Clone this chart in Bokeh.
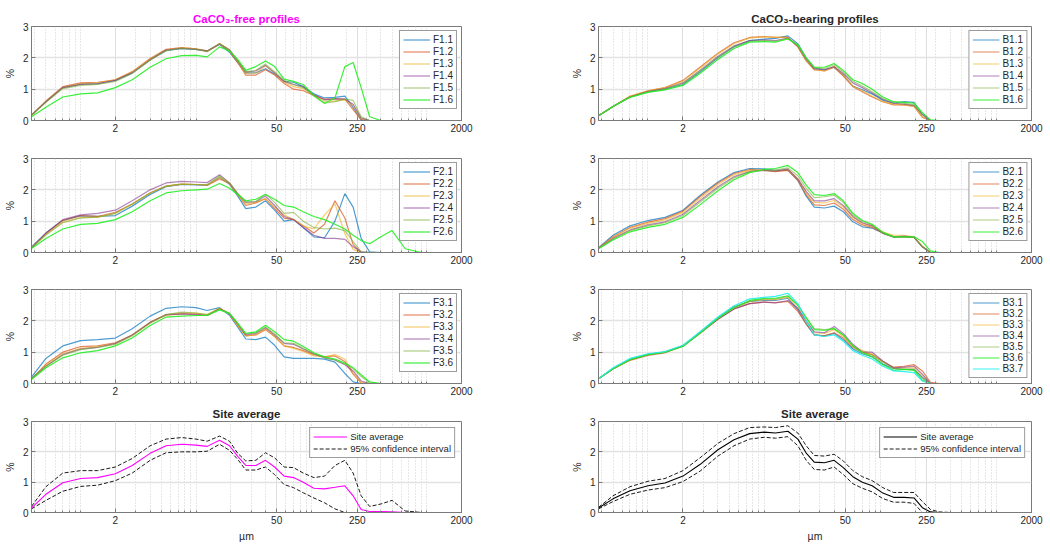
from bokeh.plotting import figure
from bokeh.layouts import column, row
from bokeh.models import Range1d, FixedTicker, Legend, LegendItem, PrintfTickFormatter
from bokeh.embed import file_html
from bokeh.resources import INLINE

# ---------------- data ----------------
size_um = [0.375, 0.5, 0.7, 1.0, 1.4, 2.0, 2.8, 4.0, 5.5, 7.5, 10, 12.5, 16, 19.5, 23, 27, 33, 40,
           48, 58, 70, 85, 105, 130, 160, 195, 230, 270, 320, 400, 500, 650, 900, 2000]

x_tick_values = [2, 50, 250, 2000]
x_minor_values = [0.4, 0.5, 0.6, 0.7, 0.8, 0.9, 1, 2, 3, 4, 5, 6, 7, 8, 9, 10, 20, 30, 40, 50, 60, 70,
                  80, 90, 100, 200, 300, 400, 500, 600, 700, 800, 900, 1000, 2000]
y_tick_values = [0, 1, 2, 3]

F1_labels = ["F1.1", "F1.2", "F1.3", "F1.4", "F1.5", "F1.6"]
F1_1 = [0.17,0.60,1.05,1.16,1.18,1.28,1.52,1.95,2.23,2.30,2.27,2.22,2.43,2.18,1.85,1.52,1.52,1.65,1.48,1.25,1.22,1.08,0.85,0.72,0.74,0.78,0.42,0.03,0,0,0,0,0,0]
F1_2 = [0.17,0.62,1.08,1.20,1.22,1.30,1.56,1.98,2.27,2.33,2.29,2.20,2.44,2.22,1.85,1.45,1.45,1.62,1.45,1.18,1.00,0.95,0.80,0.68,0.68,0.68,0.35,0.02,0,0,0,0,0,0]
F1_3 = [0.17,0.60,1.05,1.17,1.20,1.30,1.55,1.96,2.25,2.32,2.29,2.22,2.46,2.24,1.88,1.50,1.52,1.74,1.52,1.22,1.08,1.02,0.80,0.62,0.62,0.66,0.48,0.06,0,0,0,0,0,0]
F1_4 = [0.17,0.60,1.05,1.15,1.17,1.28,1.52,1.93,2.25,2.30,2.27,2.22,2.45,2.26,1.90,1.55,1.58,1.76,1.52,1.25,1.15,1.08,0.82,0.66,0.70,0.68,0.52,0.08,0,0,0,0,0,0]
F1_5 = [0.17,0.58,1.02,1.12,1.15,1.25,1.50,1.92,2.23,2.30,2.27,2.20,2.45,2.26,1.90,1.55,1.60,1.80,1.56,1.28,1.15,1.05,0.78,0.55,0.60,0.68,0.64,0.12,0,0,0,0,0,0]
F1_6 = [0.12,0.42,0.75,0.85,0.88,1.05,1.30,1.70,1.97,2.07,2.08,2.03,2.35,2.22,1.95,1.60,1.72,1.90,1.72,1.32,1.25,1.15,0.80,0.55,0.72,1.72,1.85,1.05,0.12,0,0,0,0,0]

F2_labels = ["F2.1", "F2.2", "F2.3", "F2.4", "F2.5", "F2.6"]
F2_1 = [0.18,0.62,1.02,1.17,1.15,1.18,1.48,1.85,2.10,2.17,2.16,2.14,2.40,2.18,1.80,1.40,1.45,1.65,1.35,1.00,1.05,0.80,0.50,0.47,1.00,1.88,1.45,0.45,0.02,0,0,0,0,0]
F2_2 = [0.15,0.60,1.02,1.18,1.15,1.28,1.55,1.90,2.12,2.18,2.17,2.15,2.35,2.20,1.85,1.50,1.58,1.72,1.40,1.10,1.05,0.85,0.62,0.90,1.65,1.10,0.25,0,0,0,0,0,0,0]
F2_3 = [0.15,0.58,0.98,1.12,1.12,1.25,1.55,1.90,2.12,2.18,2.17,2.15,2.40,2.20,1.85,1.55,1.60,1.72,1.45,1.20,1.05,0.85,0.75,1.20,1.55,0.60,0.10,0,0,0,0,0,0,0]
F2_4 = [0.15,0.62,1.05,1.20,1.25,1.35,1.65,2.00,2.22,2.27,2.25,2.23,2.48,2.22,1.88,1.60,1.62,1.80,1.50,1.15,1.05,0.80,0.55,0.45,0.45,0.42,0.18,0.02,0,0,0,0,0,0]
F2_5 = [0.15,0.56,0.95,1.10,1.13,1.25,1.55,1.90,2.12,2.18,2.17,2.16,2.45,2.22,1.88,1.62,1.62,1.87,1.60,1.25,1.28,1.00,0.80,0.75,0.78,0.70,0.35,0.03,0,0,0,0,0,0]
F2_6 = [0.13,0.45,0.75,0.90,0.93,1.05,1.30,1.65,1.90,1.97,2.00,2.02,2.20,2.05,1.85,1.65,1.70,1.85,1.70,1.50,1.45,1.30,1.15,1.05,0.90,0.75,0.55,0.38,0.28,0.50,0.70,0.12,0,0]

F3_labels = ["F3.1", "F3.2", "F3.3", "F3.4", "F3.5", "F3.6"]
F3_1 = [0.20,0.80,1.20,1.37,1.40,1.45,1.75,2.15,2.40,2.45,2.42,2.33,2.42,2.18,1.80,1.42,1.40,1.48,1.22,0.85,0.80,0.80,0.80,0.78,0.68,0.32,0.05,0,0,0,0,0,0,0]
F3_2 = [0.15,0.62,1.00,1.18,1.20,1.30,1.55,1.95,2.18,2.22,2.22,2.17,2.40,2.22,1.85,1.52,1.55,1.72,1.50,1.20,1.15,1.05,0.92,0.85,0.88,0.70,0.30,0.02,0,0,0,0,0,0]
F3_3 = [0.15,0.58,0.95,1.12,1.17,1.28,1.55,1.95,2.20,2.25,2.25,2.20,2.40,2.22,1.85,1.52,1.55,1.75,1.50,1.20,1.12,1.02,0.88,0.85,0.92,0.78,0.35,0.03,0,0,0,0,0,0]
F3_4 = [0.15,0.55,0.92,1.10,1.15,1.28,1.55,1.95,2.20,2.22,2.20,2.17,2.38,2.24,1.90,1.55,1.60,1.78,1.55,1.28,1.25,1.10,0.95,0.82,0.75,0.60,0.40,0.08,0,0,0,0,0,0]
F3_5 = [0.15,0.55,0.90,1.08,1.15,1.25,1.52,1.92,2.20,2.28,2.25,2.20,2.38,2.24,1.92,1.58,1.62,1.80,1.58,1.30,1.28,1.12,0.95,0.82,0.75,0.62,0.48,0.22,0.03,0,0,0,0,0]
F3_6 = [0.13,0.50,0.82,0.98,1.05,1.20,1.45,1.85,2.12,2.15,2.17,2.17,2.35,2.24,1.92,1.60,1.65,1.86,1.65,1.40,1.35,1.18,0.98,0.85,0.78,0.65,0.50,0.28,0.05,0,0,0,0,0]

SA_F_mean = [0.15,0.60,0.98,1.12,1.15,1.28,1.55,1.95,2.20,2.25,2.22,2.18,2.38,2.20,1.85,1.55,1.55,1.72,1.50,1.20,1.15,1.00,0.80,0.78,0.83,0.88,0.55,0.10,0.03,0.03,0.02,0,0,0]
SA_F_upper = [0.20,0.85,1.30,1.38,1.38,1.50,1.78,2.20,2.42,2.47,2.42,2.35,2.52,2.35,1.95,1.70,1.72,1.97,1.80,1.50,1.48,1.30,1.15,1.20,1.55,1.72,1.30,0.55,0.20,0.28,0.40,0.05,0,0]
SA_F_lower = [0.12,0.40,0.70,0.86,0.90,1.05,1.30,1.72,1.97,2.00,2.00,2.02,2.25,2.05,1.75,1.40,1.40,1.50,1.25,0.92,0.82,0.65,0.48,0.32,0.12,0,0,0,0,0,0,0,0,0]

B1_labels = ["B1.1", "B1.2", "B1.3", "B1.4", "B1.5", "B1.6"]
B1_1 = [0.15,0.45,0.75,0.92,1.00,1.15,1.55,2.00,2.35,2.55,2.60,2.62,2.70,2.45,2.00,1.68,1.62,1.70,1.45,1.10,0.98,0.85,0.65,0.55,0.60,0.58,0.20,0,0,0,0,0,0,0]
B1_2 = [0.15,0.45,0.77,0.95,1.05,1.28,1.70,2.15,2.48,2.65,2.68,2.65,2.65,2.35,1.90,1.62,1.58,1.70,1.42,1.08,0.92,0.75,0.60,0.50,0.50,0.45,0.10,0,0,0,0,0,0,0]
B1_3 = [0.15,0.45,0.77,0.95,1.05,1.25,1.67,2.12,2.45,2.63,2.67,2.65,2.65,2.35,1.92,1.62,1.58,1.72,1.45,1.10,0.95,0.78,0.60,0.52,0.50,0.45,0.12,0,0,0,0,0,0,0]
B1_4 = [0.15,0.45,0.75,0.92,1.02,1.20,1.60,2.05,2.38,2.55,2.57,2.55,2.63,2.38,1.95,1.65,1.62,1.72,1.50,1.20,1.05,0.88,0.68,0.55,0.52,0.48,0.18,0,0,0,0,0,0,0]
B1_5 = [0.15,0.45,0.75,0.92,1.00,1.18,1.58,2.02,2.35,2.53,2.55,2.53,2.62,2.40,1.98,1.68,1.65,1.78,1.55,1.25,1.10,0.92,0.70,0.58,0.55,0.50,0.20,0,0,0,0,0,0,0]
B1_6 = [0.15,0.45,0.74,0.90,0.98,1.12,1.50,1.95,2.30,2.50,2.52,2.50,2.60,2.42,2.00,1.70,1.70,1.82,1.60,1.30,1.18,1.00,0.75,0.60,0.58,0.55,0.25,0.02,0,0,0,0,0,0]

B2_labels = ["B2.1", "B2.2", "B2.3", "B2.4", "B2.5", "B2.6"]
B2_1 = [0.15,0.55,0.85,1.02,1.12,1.35,1.82,2.25,2.55,2.68,2.67,2.62,2.63,2.30,1.80,1.45,1.42,1.48,1.30,0.98,0.82,0.78,0.62,0.50,0.50,0.48,0.18,0,0,0,0,0,0,0]
B2_2 = [0.14,0.50,0.80,0.97,1.08,1.32,1.78,2.22,2.52,2.65,2.62,2.58,2.62,2.30,1.85,1.52,1.50,1.58,1.38,1.05,0.88,0.80,0.62,0.50,0.50,0.50,0.18,0,0,0,0,0,0,0]
B2_3 = [0.14,0.48,0.78,0.93,1.04,1.28,1.72,2.17,2.48,2.62,2.63,2.60,2.65,2.35,1.90,1.60,1.58,1.66,1.45,1.12,0.92,0.85,0.65,0.55,0.55,0.50,0.20,0,0,0,0,0,0,0]
B2_4 = [0.13,0.45,0.72,0.88,0.98,1.22,1.65,2.10,2.42,2.58,2.62,2.60,2.66,2.35,1.95,1.65,1.65,1.72,1.50,1.15,0.95,0.85,0.62,0.50,0.52,0.48,0.18,0,0,0,0,0,0,0]
B2_5 = [0.13,0.42,0.70,0.85,0.95,1.18,1.60,2.05,2.38,2.58,2.63,2.63,2.70,2.45,2.05,1.75,1.78,1.83,1.60,1.20,1.00,0.88,0.62,0.50,0.50,0.48,0.18,0,0,0,0,0,0,0]
B2_6 = [0.12,0.40,0.66,0.80,0.90,1.12,1.52,1.97,2.32,2.55,2.65,2.68,2.78,2.55,2.15,1.85,1.82,1.88,1.65,1.25,1.02,0.90,0.65,0.50,0.50,0.50,0.35,0.05,0,0,0,0,0,0]

B3_labels = ["B3.1", "B3.2", "B3.3", "B3.4", "B3.5", "B3.6", "B3.7"]
B3_1 = [0.15,0.48,0.77,0.93,1.00,1.20,1.62,2.10,2.45,2.62,2.65,2.65,2.72,2.35,1.90,1.55,1.52,1.60,1.40,1.10,0.95,0.85,0.62,0.48,0.45,0.45,0.20,0,0,0,0,0,0,0]
B3_2 = [0.15,0.46,0.74,0.90,0.98,1.20,1.60,2.05,2.38,2.55,2.60,2.58,2.62,2.30,1.90,1.55,1.52,1.62,1.45,1.15,1.00,0.92,0.70,0.52,0.55,0.60,0.40,0.04,0,0,0,0,0,0]
B3_3 = [0.15,0.47,0.76,0.92,1.00,1.20,1.62,2.08,2.42,2.62,2.68,2.68,2.75,2.42,1.98,1.62,1.60,1.72,1.50,1.20,1.05,0.95,0.70,0.50,0.50,0.50,0.25,0,0,0,0,0,0,0]
B3_4 = [0.15,0.47,0.76,0.92,1.00,1.20,1.60,2.05,2.38,2.55,2.60,2.57,2.65,2.40,2.00,1.65,1.62,1.82,1.60,1.25,1.00,1.00,0.72,0.50,0.52,0.55,0.30,0,0,0,0,0,0,0]
B3_5 = [0.15,0.47,0.76,0.92,1.00,1.20,1.62,2.08,2.42,2.62,2.70,2.70,2.78,2.50,2.10,1.75,1.72,1.75,1.55,1.20,1.00,0.90,0.68,0.48,0.45,0.45,0.15,0,0,0,0,0,0,0]
B3_6 = [0.15,0.47,0.76,0.92,1.00,1.18,1.60,2.08,2.42,2.65,2.72,2.72,2.80,2.50,2.10,1.72,1.70,1.75,1.55,1.20,0.98,0.85,0.60,0.42,0.45,0.42,0.10,0,0,0,0,0,0,0]
B3_7 = [0.15,0.50,0.80,0.95,1.02,1.22,1.65,2.12,2.48,2.70,2.75,2.78,2.88,2.55,2.00,1.55,1.50,1.55,1.35,1.05,0.90,0.78,0.55,0.40,0.38,0.35,0.08,0,0,0,0,0,0,0]

SA_B_mean = [0.15,0.45,0.72,0.88,0.97,1.20,1.58,2.07,2.40,2.60,2.65,2.62,2.68,2.42,1.96,1.66,1.64,1.72,1.48,1.18,1.00,0.88,0.64,0.50,0.50,0.48,0.16,0.02,0,0,0,0,0,0]
SA_B_upper = [0.17,0.55,0.85,1.03,1.12,1.38,1.80,2.28,2.60,2.80,2.82,2.80,2.86,2.62,2.20,1.88,1.86,1.92,1.70,1.38,1.18,1.05,0.82,0.66,0.66,0.66,0.36,0.10,0.02,0,0,0,0,0]
SA_B_lower = [0.12,0.36,0.60,0.74,0.82,1.02,1.36,1.86,2.20,2.42,2.48,2.45,2.50,2.20,1.72,1.42,1.40,1.50,1.25,0.95,0.80,0.68,0.46,0.34,0.34,0.30,0,0,0,0,0,0,0,0]

# ---------------- styling ----------------
FONT = "Liberation Sans"
TXT = "#262626"
AX = "#7a7a7a"
COLORS = ["#0072BD", "#D95319", "#EDB120", "#7E2F8E", "#77AC30", "#22EE22", "#22EEEE"]
ALPHAS = [0.7, 0.7, 0.65, 0.6, 0.6, 0.9, 0.9]


def panel(width, height, bl, br, bt, bb, title=None, title_color=TXT, xlabel=None):
    p = figure(width=width, height=height, x_axis_type="log",
               x_range=Range1d(0.375, 2000), y_range=Range1d(0, 3),
               output_backend="svg", toolbar_location=None,
               min_border_left=bl, min_border_right=br, min_border_top=bt, min_border_bottom=bb,
               title=title)
    p.background_fill_color = "white"
    p.border_fill_color = "white"
    p.outline_line_color = AX
    p.outline_line_width = 1
    if title:
        p.title.text_font = FONT
        p.title.text_font_size = "11.5px"
        p.title.text_font_style = "bold"
        p.title.text_color = title_color
        p.title.align = "center"
        p.title.standoff = 3
    xa = p.xaxis[0]
    xa.ticker = FixedTicker(ticks=x_tick_values, minor_ticks=x_minor_values)
    xa.formatter = PrintfTickFormatter(format="%d")
    ya = p.yaxis[0]
    ya.ticker = FixedTicker(ticks=y_tick_values, minor_ticks=[])
    for a in (xa, ya):
        a.major_label_text_font = FONT
        a.major_label_text_font_size = "10px"
        a.major_label_text_color = TXT
        a.axis_line_color = AX
        a.major_tick_line_color = AX
        a.minor_tick_line_color = AX
        a.major_tick_in = 4
        a.major_tick_out = 0
        a.minor_tick_in = 2
        a.minor_tick_out = 0
        a.major_label_standoff = 3
        a.axis_label_text_font = FONT
        a.axis_label_text_font_size = "10.5px"
        a.axis_label_text_font_style = "normal"
        a.axis_label_text_color = TXT
    ya.axis_label = "%"
    ya.axis_label_standoff = 4
    if xlabel:
        xa.axis_label = xlabel
        xa.axis_label_standoff = 3
    p.xgrid.grid_line_color = "#dedede"
    p.xgrid.minor_grid_line_color = "#cfcfcf"
    p.xgrid.minor_grid_line_dash = "1 2"
    p.ygrid.grid_line_color = "#e2e2e2"
    p.ygrid.grid_line_width = 1.3
    return p


def style_legend(leg):
    leg.location = "top_right"
    leg.label_text_font = FONT
    leg.label_text_font_size = "10px"
    leg.label_text_color = TXT
    leg.label_height = 11
    leg.glyph_height = 11
    leg.glyph_width = 27
    leg.label_standoff = 3
    leg.spacing = 1
    leg.padding = 3
    leg.margin = 4
    leg.border_line_color = "#3a3a3a"
    leg.border_line_width = 1
    leg.background_fill_alpha = 1.0
    leg.click_policy = "none"


def profiles(p, series, labels):
    items = []
    for i, (ys, lab) in enumerate(zip(series, labels)):
        r = p.line(size_um, ys, line_color=COLORS[i], line_alpha=ALPHAS[i], line_width=1.2)
        items.append(LegendItem(label=lab, renderers=[r]))
    leg = Legend(items=items)
    style_legend(leg)
    if len(items) > 6:
        leg.spacing = 0
    p.add_layout(leg)


def averages(p, mean, upper, lower, color):
    r1 = p.line(size_um, mean, line_color=color, line_width=1.1)
    r2 = p.line(size_um, upper, line_color="#1a1a1a", line_width=1, line_dash="4 2")
    p.line(size_um, lower, line_color="#1a1a1a", line_width=1, line_dash="4 2")
    leg = Legend(items=[LegendItem(label="Site average", renderers=[r1]),
                        LegendItem(label="95% confidence interval", renderers=[r2])])
    style_legend(leg)
    leg.label_text_font_size = "9.5px"
    leg.glyph_width = 34
    leg.margin = 6
    p.add_layout(leg)


W = 525
L_BL, L_BR = 30, 64
R_BL, R_BR = 73, 19
heights = [139, 131, 132, 142]
tops = [26, 19, 19, 19]
bots = [19, 18, 19, 29]

pl1 = panel(W, heights[0], L_BL, L_BR, tops[0], bots[0], title="CaCO\u2083-free profiles", title_color="#FF00FF")
profiles(pl1, [F1_1, F1_2, F1_3, F1_4, F1_5, F1_6], F1_labels)
pl2 = panel(W, heights[1], L_BL, L_BR, tops[1], bots[1])
profiles(pl2, [F2_1, F2_2, F2_3, F2_4, F2_5, F2_6], F2_labels)
pl3 = panel(W, heights[2], L_BL, L_BR, tops[2], bots[2])
profiles(pl3, [F3_1, F3_2, F3_3, F3_4, F3_5, F3_6], F3_labels)
pl4 = panel(W, heights[3], L_BL, L_BR, tops[3], bots[3], title="Site average", xlabel="\u00b5m")
averages(pl4, SA_F_mean, SA_F_upper, SA_F_lower, "#FF00FF")

pr1 = panel(W, heights[0], R_BL, R_BR, tops[0], bots[0], title="CaCO\u2083-bearing profiles")
profiles(pr1, [B1_1, B1_2, B1_3, B1_4, B1_5, B1_6], B1_labels)
pr2 = panel(W, heights[1], R_BL, R_BR, tops[1], bots[1])
profiles(pr2, [B2_1, B2_2, B2_3, B2_4, B2_5, B2_6], B2_labels)
pr3 = panel(W, heights[2], R_BL, R_BR, tops[2], bots[2])
profiles(pr3, [B3_1, B3_2, B3_3, B3_4, B3_5, B3_6, B3_7], B3_labels)
pr4 = panel(W, heights[3], R_BL, R_BR, tops[3], bots[3], title="Site average", xlabel="\u00b5m")
averages(pr4, SA_B_mean, SA_B_upper, SA_B_lower, "#000000")

layout = column(row(pl1, pr1), row(pl2, pr2), row(pl3, pr3), row(pl4, pr4))

open("out.html", "w").write(file_html(layout, INLINE))
